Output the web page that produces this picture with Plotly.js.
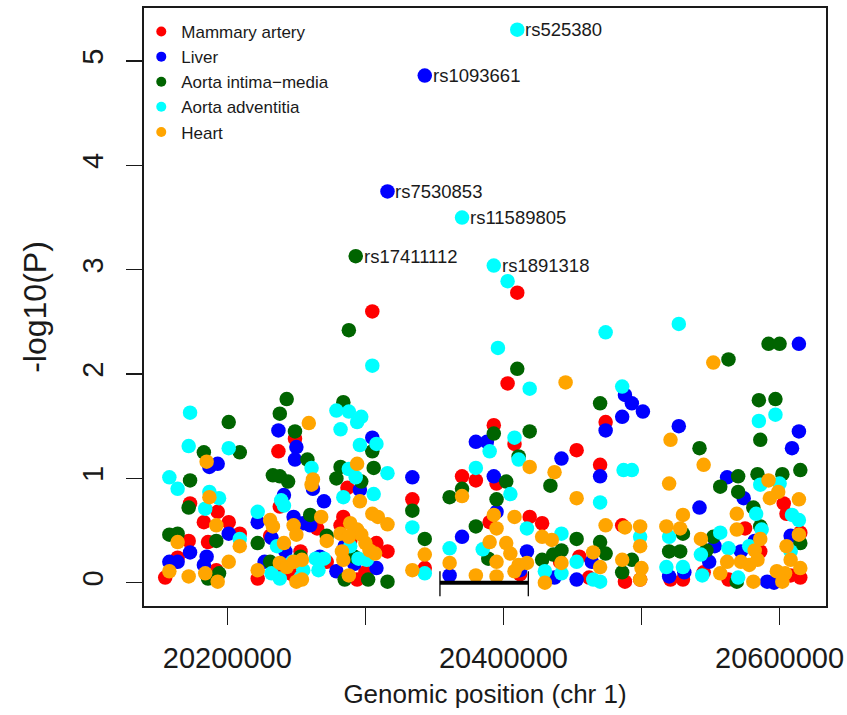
<!DOCTYPE html>
<html>
<head>
<meta charset="utf-8">
<script src="https://cdn.plot.ly/plotly-3.0.1.min.js"></script>
<style>html,body{margin:0;padding:0;background:#fff;}#chart{width:847px;height:715px;}</style>
</head>
<body>
<div id="chart"></div>
<script>
// ---- Data (position in bp on chr 1, value = -log10(P)) ----
const tissueNames = ["Mammary artery", "Liver", "Aorta intima\u2212media", "Aorta adventitia", "Heart"];
const tissueColors = ["#FF0000", "#0000FF", "#006400", "#00FFFF", "#FFA500"];

const mammaryPos = [20173000,20193000,20183000,20201000,20172000,20209000,20186000,20164000,20192000,20155000,
  20249000,20237000,20238000,20287000,20284000,20265000,20308000,20316000,20222000,20294000,
  20231000,20253000,20272000,20289000,20247000,20300000,20282000,20240000,
  20305000,20410000,20403000,20334000,20343000,20370000,
  20393000,20408000,20474000,20453000,20470000,20380000,20390000,20419000,20428000,20486000,20488000,20395000,
  20441000,20462000,20455000,20412000,
  20603000,20605000,20521000,20530000,20575000,20563000,20615000,20608000,20499000,20545000,20586000,20615000];
const mammaryP = [0.76,0.68,0.58,0.58,0.40,0.47,0.39,0.24,0.12,0.05,
  1.38,1.26,0.73,0.91,0.63,0.52,0.38,0.30,0.04,0.03,
  0.45,0.30,0.20,0.40,0.08,0.10,0.55,0.15,
  2.60,2.78,1.91,0.80,0.14,1.02,
  1.51,1.33,1.54,1.27,1.13,0.98,0.58,0.63,0.57,0.55,0.01,0.95,
  0.20,0.05,0.25,0.08,
  0.76,0.66,0.03,0.03,0.52,0.03,0.48,0.07,0.03,0.10,0.30,0.05];

const liverPos = [20193000,20187000,20201000,20173000,20158000,20164000,20185000,20183000,
  20237000,20250000,20249000,20241000,20222000,20248000,20255000,20232000,20305000,20262000,20296000,20270000,
  20279000,20308000,20260000,20242000,20285000,20292000,20267000,20227000,
  20334000,20370000,20361000,20343000,20316000,
  20488000,20486000,20380000,20388000,20474000,20442000,20470000,20393000,20417000,20453000,20464000,20395000,
  20412000,20437000,20493000,20501000,
  20527000,20614000,20609000,20562000,20574000,20542000,20549000,20520000,20591000,20596000,20614000,
  20572000,20582000,20608000,20553000,20531000];
const liverP = [1.14,1.11,0.47,0.29,0.20,0.20,0.25,0.17,
  1.46,1.30,1.18,0.84,0.58,0.63,0.57,0.43,1.39,0.90,0.89,0.78,
  0.11,0.14,0.55,0.30,0.35,0.18,0.25,0.20,
  1.01,0.44,0.07,4.86,3.75,
  1.80,1.59,1.35,1.35,1.46,1.19,1.02,1.02,0.30,0.03,0.20,0.68,
  0.12,0.05,1.72,1.64,
  1.50,1.45,1.29,1.01,0.81,0.72,0.20,0.06,0.01,0.00,2.29,
  0.30,0.40,0.45,0.35,0.10];

const intimaPos = [20201000,20183000,20209000,20173000,20172000,20158000,20164000,20192000,20194000,20186000,
  20243000,20238000,20249000,20258000,20233000,20238000,20244000,20222000,
  20284000,20305000,20282000,20306000,20279000,20297000,20260000,20285000,20302000,20316000,
  20272000,20253000,20292000,20231000,
  20288000,20293000,20410000,20334000,20343000,20370000,20361000,
  20470000,20393000,20419000,20411000,20402000,20434000,20395000,20380000,20453000,20470000,20474000,20442000,
  20436000,20389000,20428000,20486000,
  20585000,20597000,20586000,20542000,20615000,20570000,20584000,20602000,20557000,20570000,20581000,20586000,
  20530000,20552000,20520000,20528000,20615000,20569000,20493000,20563000,20592000,20600000,20547000];
const intimaP = [1.54,1.25,1.25,0.98,0.72,0.46,0.47,0.40,0.09,0.04,
  1.76,1.62,1.45,1.18,1.03,1.02,0.97,0.38,
  1.73,1.26,1.11,1.10,1.00,0.97,0.65,0.03,0.03,0.01,
  0.45,0.25,0.25,0.20,
  2.42,3.13,2.05,0.69,0.42,0.90,0.82,
  1.72,1.43,1.45,1.21,0.97,0.93,0.80,0.54,0.42,0.39,0.28,0.31,
  0.27,0.23,0.22,0.10,
  1.75,1.76,1.37,1.29,1.08,1.02,1.04,1.04,0.92,0.87,0.72,0.54,
  0.47,0.44,0.30,0.30,0.38,0.01,0.22,2.14,2.29,2.29,0.31];

const adventitiaPos = [20173000,20172000,20201000,20158000,20164000,20187000,20194000,20184000,20209000,
  20239000,20241000,20222000,20236000,20232000,20238000,20255000,20261000,
  20279000,20288000,20297000,20294000,20282000,20308000,20296000,20288000,20316000,20293000,20284000,20306000,
  20264000,20270000,20266000,20295000,20301000,20247000,20253000,20289000,
  20305000,20396000,20403000,20419000,20410000,20370000,20393000,20334000,20343000,20361000,
  20408000,20390000,20411000,20380000,20487000,20405000,20470000,20417000,20442000,20453000,20430000,20442000,
  20465000,20470000,20486000,20474000,20527000,20385000,
  20585000,20597000,20493000,20586000,20600000,20583000,20609000,20614000,20557000,20520000,20563000,20543000,
  20518000,20530000,20544000,20570000,20587000,20499000,20608000,20578000];
const adventitiaP = [1.63,1.31,1.29,1.01,0.90,0.87,0.81,0.71,0.42,
  0.79,0.74,0.68,0.35,0.09,0.04,0.12,1.10,
  1.65,1.64,1.59,1.54,1.47,1.33,1.32,1.09,1.05,1.01,0.82,0.85,
  0.23,0.23,0.12,0.23,0.22,0.20,0.05,0.35,
  2.08,2.25,2.89,1.86,5.30,3.50,3.04,0.53,0.09,0.33,
  1.39,1.26,1.18,1.10,1.08,0.85,0.77,0.52,0.47,0.20,0.11,0.09,
  0.03,0.01,1.88,2.40,2.48,0.32,
  1.55,1.61,1.08,0.94,0.95,0.66,0.65,0.60,0.48,0.44,0.33,0.27,
  0.15,0.15,0.07,0.05,0.51,0.44,0.30,0.35];

const heartPos = [20185000,20187000,20192000,20164000,20209000,20201000,20158000,20172000,20184000,20193000,
  20259000,20231000,20233000,20248000,20250000,20241000,20238000,20243000,20248000,20254000,20250000,20222000,
  20294000,20262000,20261000,20296000,20268000,20305000,20309000,20316000,20289000,20294000,20282000,20297000,
  20288000,20303000,20307000,20283000,20284000,20288000,20254000,20272000,20300000,
  20334000,20343000,20370000,20361000,
  20445000,20419000,20437000,20453000,20393000,20408000,20395000,20474000,20390000,20402000,20428000,20435000,
  20465000,20405000,20395000,20411000,20417000,20442000,20470000,20486000,20380000,20395000,20408000,20430000,20488000,
  20552000,20521000,20545000,20520000,20592000,20599000,20593000,20614000,20569000,20530000,20569000,20499000,
  20518000,20528000,20543000,20586000,20614000,20605000,20499000,20582000,20562000,20572000,20578000,20584000,
  20608000,20615000,20500000,20557000,20598000,20604000,20581000,20499000,20602000];
const heartP = [1.16,0.82,0.55,0.39,0.35,0.20,0.11,0.06,0.09,0.01,
  1.53,0.60,0.54,0.55,0.46,0.38,0.19,0.15,0.20,0.22,0.01,0.12,
  1.14,0.99,0.94,0.78,0.63,0.66,0.63,0.56,0.57,0.51,0.47,0.46,
  0.44,0.31,0.28,0.30,0.22,0.07,0.03,0.40,0.38,
  0.12,0.27,0.83,0.19,
  1.92,1.11,1.06,0.81,0.65,0.63,0.52,0.55,0.39,0.38,0.44,0.41,
  0.29,0.28,0.20,0.17,0.19,0.19,0.15,0.22,0.07,0.06,0.11,0.00,0.53,
  2.11,1.37,1.13,0.95,0.98,0.87,0.81,0.80,0.66,0.65,0.51,0.54,
  0.54,0.52,0.42,0.42,0.46,0.35,0.35,0.31,0.20,0.20,0.17,0.22,
  0.22,0.14,0.14,0.09,0.11,0.09,0.01,0.03,0.01];

// labelled SNPs
const snpNames = ["rs525380","rs1093661","rs7530853","rs11589805","rs17411112","rs1891318"];
const snpPos = [20410000,20343000,20316000,20370000,20293000,20393000];
const snpP = [5.30,4.86,3.75,3.50,3.13,3.04];

// gene region bar
const geneRegion = [20354000, 20418000];

// axes
const xTickVals = [20200000,20300000,20400000,20500000,20600000];
const xTickText = ["20200000","","20400000","","20600000"];
const yTickVals = [0,1,2,3,4,5];
const yTickText = ["0","1","2","3","4","5"];

// ---- Build ----
const FONT = "Liberation Sans, Arial, Helvetica, sans-serif";
const INK = "#1a1a1a";
const series = [[mammaryPos, mammaryP],[liverPos, liverP],[intimaPos, intimaP],[adventitiaPos, adventitiaP],[heartPos, heartP]];

const traces = [];
series.forEach((s, i) => {
  traces.push({
    type: "scatter", mode: "markers", x: s[0], y: s[1],
    marker: {color: tissueColors[i], size: 14.5, line: {width: 0}},
    showlegend: false, hoverinfo: "x+y", name: tissueNames[i]
  });
});
// legend entries (small dots like R's legend)
tissueNames.forEach((n, i) => {
  traces.push({
    type: "scatter", mode: "markers", x: [null], y: [null], name: n,
    marker: {color: tissueColors[i], size: 10}, showlegend: true
  });
});
// gene region
traces.push({
  type: "scatter", mode: "lines", x: geneRegion, y: [0, 0],
  line: {color: "#000", width: 4}, showlegend: false, hoverinfo: "skip"
});
traces.push({
  type: "scatter", mode: "lines",
  x: [geneRegion[0], geneRegion[0], null, geneRegion[1], geneRegion[1]],
  y: [-0.13, 0.11, null, -0.13, 0.11],
  line: {color: "#000", width: 1.3}, showlegend: false, hoverinfo: "skip"
});

const annotations = snpNames.map((n, i) => ({
  x: snpPos[i], y: snpP[i], xref: "x", yref: "y", text: n, showarrow: false,
  xanchor: "left", yanchor: "middle", xshift: 6,
  font: {family: FONT, size: 18.5, color: INK}
}));

const layout = {
  width: 847, height: 715,
  margin: {l: 144, r: 21, t: 8, b: 109},
  paper_bgcolor: "#fff", plot_bgcolor: "#fff",
  font: {family: FONT, color: INK},
  xaxis: {
    range: [20139640, 20633620], tickvals: xTickVals, ticktext: xTickText,
    ticks: "outside", ticklen: 17, tickwidth: 1.3, tickcolor: INK,
    showline: true, mirror: true, linewidth: 1.6, linecolor: INK,
    showgrid: false, zeroline: false, ticklabelstandoff: 9,
    tickfont: {family: FONT, size: 29, color: INK},
    title: {text: "Genomic position (chr 1)", font: {family: FONT, size: 26, color: INK}, standoff: 11}
  },
  yaxis: {
    range: [-0.223, 5.508], tickvals: yTickVals, ticktext: yTickText, tickangle: -90,
    ticks: "outside", ticklen: 16, tickwidth: 1.3, tickcolor: INK,
    showline: true, mirror: true, linewidth: 1.6, linecolor: INK,
    showgrid: false, zeroline: false, ticklabelstandoff: 12,
    tickfont: {family: FONT, size: 29, color: INK},
    title: {text: "-log10(P)", font: {family: FONT, size: 32, color: INK}, standoff: 20}
  },
  legend: {
    x: -0.004, y: 0.99, xanchor: "left", yanchor: "top",
    bgcolor: "rgba(0,0,0,0)", borderwidth: 0,
    font: {family: FONT, size: 17, color: INK},
    itemwidth: 30, tracegroupgap: 0
  },
  annotations: annotations
};

Plotly.newPlot("chart", traces, layout, {staticPlot: true, displayModeBar: false});
</script>
</body>
</html>
